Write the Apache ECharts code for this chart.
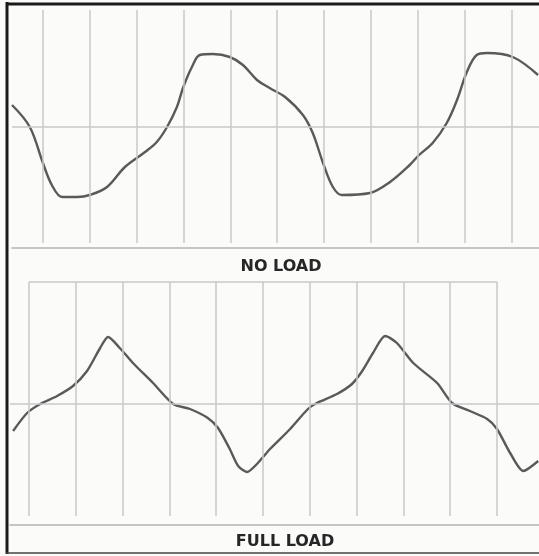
<!DOCTYPE html>
<html>
<head>
<meta charset="utf-8">
<script src="https://cdn.jsdelivr.net/npm/echarts@6/dist/echarts.min.js"></script>
<style>
html,body{margin:0;padding:0;background:#fbfbfa;}
#chart{width:539px;height:556px;}
</style>
</head>
<body>
<div id="chart"></div>
<script>
// Time in grid divisions, deflection in arbitrary units
var noLoadTime = [-0.66,-0.28,0.00,0.19,0.41,0.73,1.00,1.37,1.75,2.18,2.43,2.65,2.86,2.99,3.18,3.35,3.63,3.99,4.27,4.57,4.84,5.17,5.55,5.76,5.98,6.19,6.38,6.98,7.41,7.83,8.03,8.32,8.62,8.84,9.05,9.26,9.48,10.03,10.57];
var noLoadValue = [22,0,-36,-58,-70,-70,-68,-60,-40,-25,-15,0,20,39,60,72,73,70,62,47,39,30,12,-6,-36,-60,-68,-66,-55,-38,-28,-16,4,27,55,72,74,70,52];

var fullLoadTime = [-0.34,-0.04,0.24,0.60,0.94,1.24,1.52,1.69,1.94,2.22,2.65,3.08,3.44,3.82,4.04,4.29,4.47,4.66,4.87,5.15,5.58,5.96,6.15,6.58,6.90,7.12,7.35,7.61,7.86,8.21,8.72,9.04,9.42,9.79,10.00,10.28,10.56,10.88];
var fullLoadValue = [-27,-9,0,8,18,33,56,67,56,41,21,0,-5,-14,-24,-45,-62,-68,-60,-45,-25,-5,1,10,20,33,51,68,61,41,21,1,-7,-15,-25,-49,-67,-57];

// Timing lines of the record (grid divisions)
var timeMarks = [0,1,2,3,4,5,6,7,8,9,10];
var panelLabels = ['NO LOAD', 'FULL LOAD'];

function pairs(xs, ys){ return xs.map(function(x,i){ return [x, ys[i]]; }); }

var gridGray = '#c8c8c8';
var traceColor = '#5a5a5a';

function verticals(top, bottom){
  return timeMarks.map(function(t){ return [{coord:[t, top]},{coord:[t, bottom]}]; });
}

var chart = echarts.init(document.getElementById('chart'), null, {renderer:'canvas'});
var option = {
  animation: false,
  backgroundColor: '#fbfbfa',
  grid: [
    {left: 12, right: 0, top: 4, bottom: 308},
    {left: 10, right: 0, top: 282, bottom: 31}
  ],
  xAxis: [
    {gridIndex:0, type:'value', min:-0.66, max:10.59,
     axisLine:{show:true, onZero:false, lineStyle:{color:'#b4b4b4', width:1.5}},
     axisTick:{show:false}, axisLabel:{show:false}, splitLine:{show:false}},
    {gridIndex:1, type:'value', min:-0.406, max:10.897,
     axisLine:{show:true, onZero:false, lineStyle:{color:'#b4b4b4', width:1.5}},
     axisTick:{show:false}, axisLabel:{show:false}, splitLine:{show:false}}
  ],
  yAxis: [
    {gridIndex:0, type:'value', min:-121, max:123, axisLine:{show:false}, axisTick:{show:false}, axisLabel:{show:false}, splitLine:{show:false}},
    {gridIndex:1, type:'value', min:-121, max:122, axisLine:{show:false}, axisTick:{show:false}, axisLabel:{show:false}, splitLine:{show:false}}
  ],
  series: [
    {type:'line', xAxisIndex:0, yAxisIndex:0, data:[], z:1, silent:true,
     markLine:{symbol:'none', silent:true, animation:false, label:{show:false},
       lineStyle:{color:gridGray, width:1.5, type:'solid'},
       data: verticals(117, -116).concat([{yAxis:0}])}},
    {type:'line', xAxisIndex:1, yAxisIndex:1, data:[], z:1, silent:true,
     markLine:{symbol:'none', silent:true, animation:false, label:{show:false},
       lineStyle:{color:gridGray, width:1.5, type:'solid'},
       data: verticals(122, -112).concat([{yAxis:0}], [[{coord:[timeMarks[0],122]},{coord:[timeMarks[timeMarks.length-1],122]}]])}},
    {name:'No load', type:'line', xAxisIndex:0, yAxisIndex:0, data: pairs(noLoadTime, noLoadValue),
     smooth:0.35, showSymbol:false, z:3, lineStyle:{color:traceColor, width:2.4}},
    {name:'Full load', type:'line', xAxisIndex:1, yAxisIndex:1, data: pairs(fullLoadTime, fullLoadValue),
     smooth:0.25, showSymbol:false, z:3, lineStyle:{color:traceColor, width:2.4}}
  ],
  graphic: [
    {type:'line', shape:{x1:7, y1:2, x2:7, y2:554}, style:{stroke:'#1a1a1a', lineWidth:3}},
    {type:'line', shape:{x1:6, y1:4, x2:539, y2:4}, style:{stroke:'#1a1a1a', lineWidth:3}},
    {type:'line', shape:{x1:6, y1:553, x2:539, y2:553}, style:{stroke:'#444', lineWidth:1.5}},
    {type:'text', x:281, y:267, style:{text:panelLabels[0], fill:'#262626', font:'bold 16px "DejaVu Sans"', textAlign:'center', textVerticalAlign:'middle'}},
    {type:'text', x:285, y:542, style:{text:panelLabels[1], fill:'#262626', font:'bold 16px "DejaVu Sans"', textAlign:'center', textVerticalAlign:'middle'}}
  ]
};
chart.setOption(option);
</script>
</body>
</html>
